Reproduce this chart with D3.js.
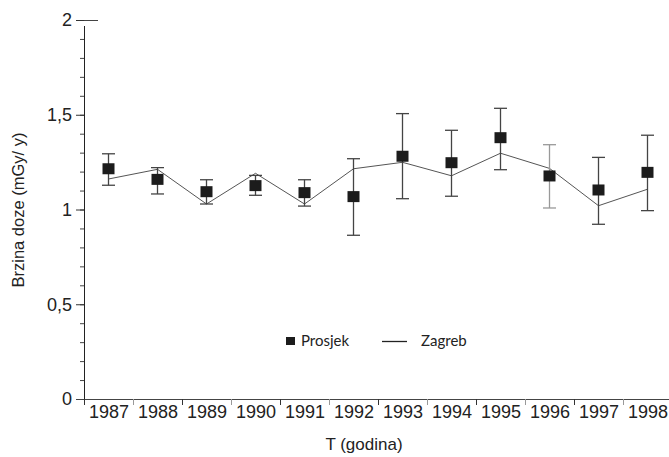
<!DOCTYPE html>
<html>
<head>
<meta charset="utf-8">
<script src="https://cdn.jsdelivr.net/npm/d3@7"></script>
<style>
  body { margin: 0; background: #fff; }
  #chart { width: 669px; height: 457px; }
  text { font-family: "Liberation Sans", Arial, sans-serif; fill: #222; }
  .legend text { font-family: Lato, "Open Sans", sans-serif; }
</style>
</head>
<body>
<div id="chart"></div>
<script>
// values
const years = [1987, 1988, 1989, 1990, 1991, 1992, 1993, 1994, 1995, 1996, 1997, 1998];
const prosjek = [1.215, 1.159, 1.094, 1.126, 1.089, 1.068, 1.281, 1.247, 1.379, 1.177, 1.103, 1.196];
const errHigh = [1.294, 1.221, 1.157, 1.180, 1.157, 1.268, 1.506, 1.418, 1.534, 1.342, 1.275, 1.392];
const errLow  = [1.128, 1.082, 1.029, 1.075, 1.018, 0.864, 1.057, 1.070, 1.210, 1.008, 0.922, 0.994];
const zagreb  = [1.161, 1.212, 1.029, 1.191, 1.029, 1.215, 1.249, 1.178, 1.297, 1.217, 1.020, 1.107];
const yTicks = [0, 0.5, 1, 1.5, 2];
const yMinor = d3.range(0, 2.0001, 0.1);

const width = 669, height = 457;
const plotLeft = 84, plotBottom = 399, plotTop = 20;

var svg = d3.select('#chart').append('svg')
  .attr('width', width)
  .attr('height', height);

var x = d3.scaleLinear()
  .domain([years[0] - 0.5, years[years.length - 1] + 0.5])
  .range([plotLeft, plotLeft + 12 * 49]);

var y = d3.scaleLinear()
  .domain([0, 2])
  .range([plotBottom, plotTop]);

// y axis: minor ticks, then major ticks with labels
svg.append('g')
  .attr('transform', 'translate(' + plotLeft + ',0)')
  .call(d3.axisLeft(y).tickValues(yMinor).tickSize(4).tickFormat(''))
  .call(g => g.select('.domain').remove())
  .selectAll('line').attr('stroke', '#444');

var yAxis = svg.append('g')
  .attr('transform', 'translate(' + plotLeft + ',0)')
  .call(d3.axisLeft(y).tickValues(yTicks).tickSize(8).tickPadding(4)
    .tickFormat(d => String(d).replace('.', ',')));
yAxis.select('.domain').attr('stroke', '#222').attr('d', 'M0.5,' + (plotTop + 6) + 'V' + (plotBottom + 6));
yAxis.selectAll('line').attr('stroke', '#333');
yAxis.selectAll('text').style('font-size', '18px').attr('fill', '#222');

// small piece of top frame
svg.append('line')
  .attr('x1', plotLeft).attr('x2', plotLeft + 14)
  .attr('y1', y(2) + 0.5).attr('y2', y(2) + 0.5)
  .attr('stroke', '#444');

// x axis: boundary ticks and year labels
var boundaries = d3.range(years[0] - 0.5, years[years.length - 1] + 1, 1);
var xAxis = svg.append('g')
  .attr('transform', 'translate(0,' + plotBottom + ')')
  .call(d3.axisBottom(x).tickValues(boundaries).tickSize(6).tickFormat(''));
xAxis.select('.domain').attr('stroke', '#444').attr('d', 'M' + (plotLeft - 8) + ',0.5H' + width);
xAxis.selectAll('.tick line').attr('stroke', (d, i) => i % 2 ? '#999' : '#333');

svg.append('g')
  .attr('transform', 'translate(0,' + plotBottom + ')')
  .call(d3.axisBottom(x).tickValues(years).tickSize(0).tickPadding(6).tickFormat(d3.format('d')))
  .call(g => g.select('.domain').remove())
  .selectAll('text').style('font-size', '18px').attr('fill', '#222');

// axis titles
svg.append('text')
  .attr('x', 364).attr('y', 450)
  .attr('text-anchor', 'middle')
  .style('font-size', '17px')
  .text('T (godina)');

svg.append('text')
  .attr('transform', 'translate(24,210) rotate(-90)')
  .attr('text-anchor', 'middle')
  .style('font-size', '16.5px')
  .text('Brzina doze (mGy/ y)');

// Zagreb line
var line = d3.line()
  .x((d, i) => x(years[i]))
  .y(d => y(d));

svg.append('path')
  .datum(zagreb)
  .attr('d', line)
  .attr('fill', 'none')
  .attr('stroke', '#555')
  .attr('stroke-width', 1);

// error bars
var bars = svg.append('g').selectAll('g')
  .data(years)
  .enter()
  .append('g')
  .attr('stroke', (d, i) => i == 9 ? '#999' : '#444')
  .attr('stroke-width', 1.3);

bars.append('line')
  .attr('x1', d => x(d)).attr('x2', d => x(d))
  .attr('y1', (d, i) => y(errHigh[i])).attr('y2', (d, i) => y(errLow[i]));
bars.append('line')
  .attr('x1', d => x(d) - 6.5).attr('x2', d => x(d) + 6.5)
  .attr('y1', (d, i) => y(errHigh[i])).attr('y2', (d, i) => y(errHigh[i]));
bars.append('line')
  .attr('x1', d => x(d) - 6.5).attr('x2', d => x(d) + 6.5)
  .attr('y1', (d, i) => y(errLow[i])).attr('y2', (d, i) => y(errLow[i]));

// Prosjek markers
svg.append('g').selectAll('rect')
  .data(prosjek)
  .enter()
  .append('rect')
  .attr('x', (d, i) => x(years[i]) - 6)
  .attr('y', d => y(d) - 5.5)
  .attr('width', 12)
  .attr('height', 11)
  .attr('fill', '#1c1c1c');

// legend
var legend = svg.append('g').attr('class', 'legend');
legend.append('rect')
  .attr('x', 286).attr('y', 337)
  .attr('width', 9).attr('height', 8)
  .attr('fill', '#1c1c1c');
legend.append('text')
  .attr('x', 301).attr('y', 346)
  .style('font-size', '15px').attr('fill', '#333')
  .text('Prosjek');
legend.append('line')
  .attr('x1', 382).attr('x2', 407)
  .attr('y1', 341.5).attr('y2', 341.5)
  .attr('stroke', '#222').attr('stroke-width', 1.3);
legend.append('text')
  .attr('x', 421).attr('y', 346)
  .style('font-size', '15px').attr('fill', '#333')
  .text('Zagreb');
</script>
</body>
</html>
